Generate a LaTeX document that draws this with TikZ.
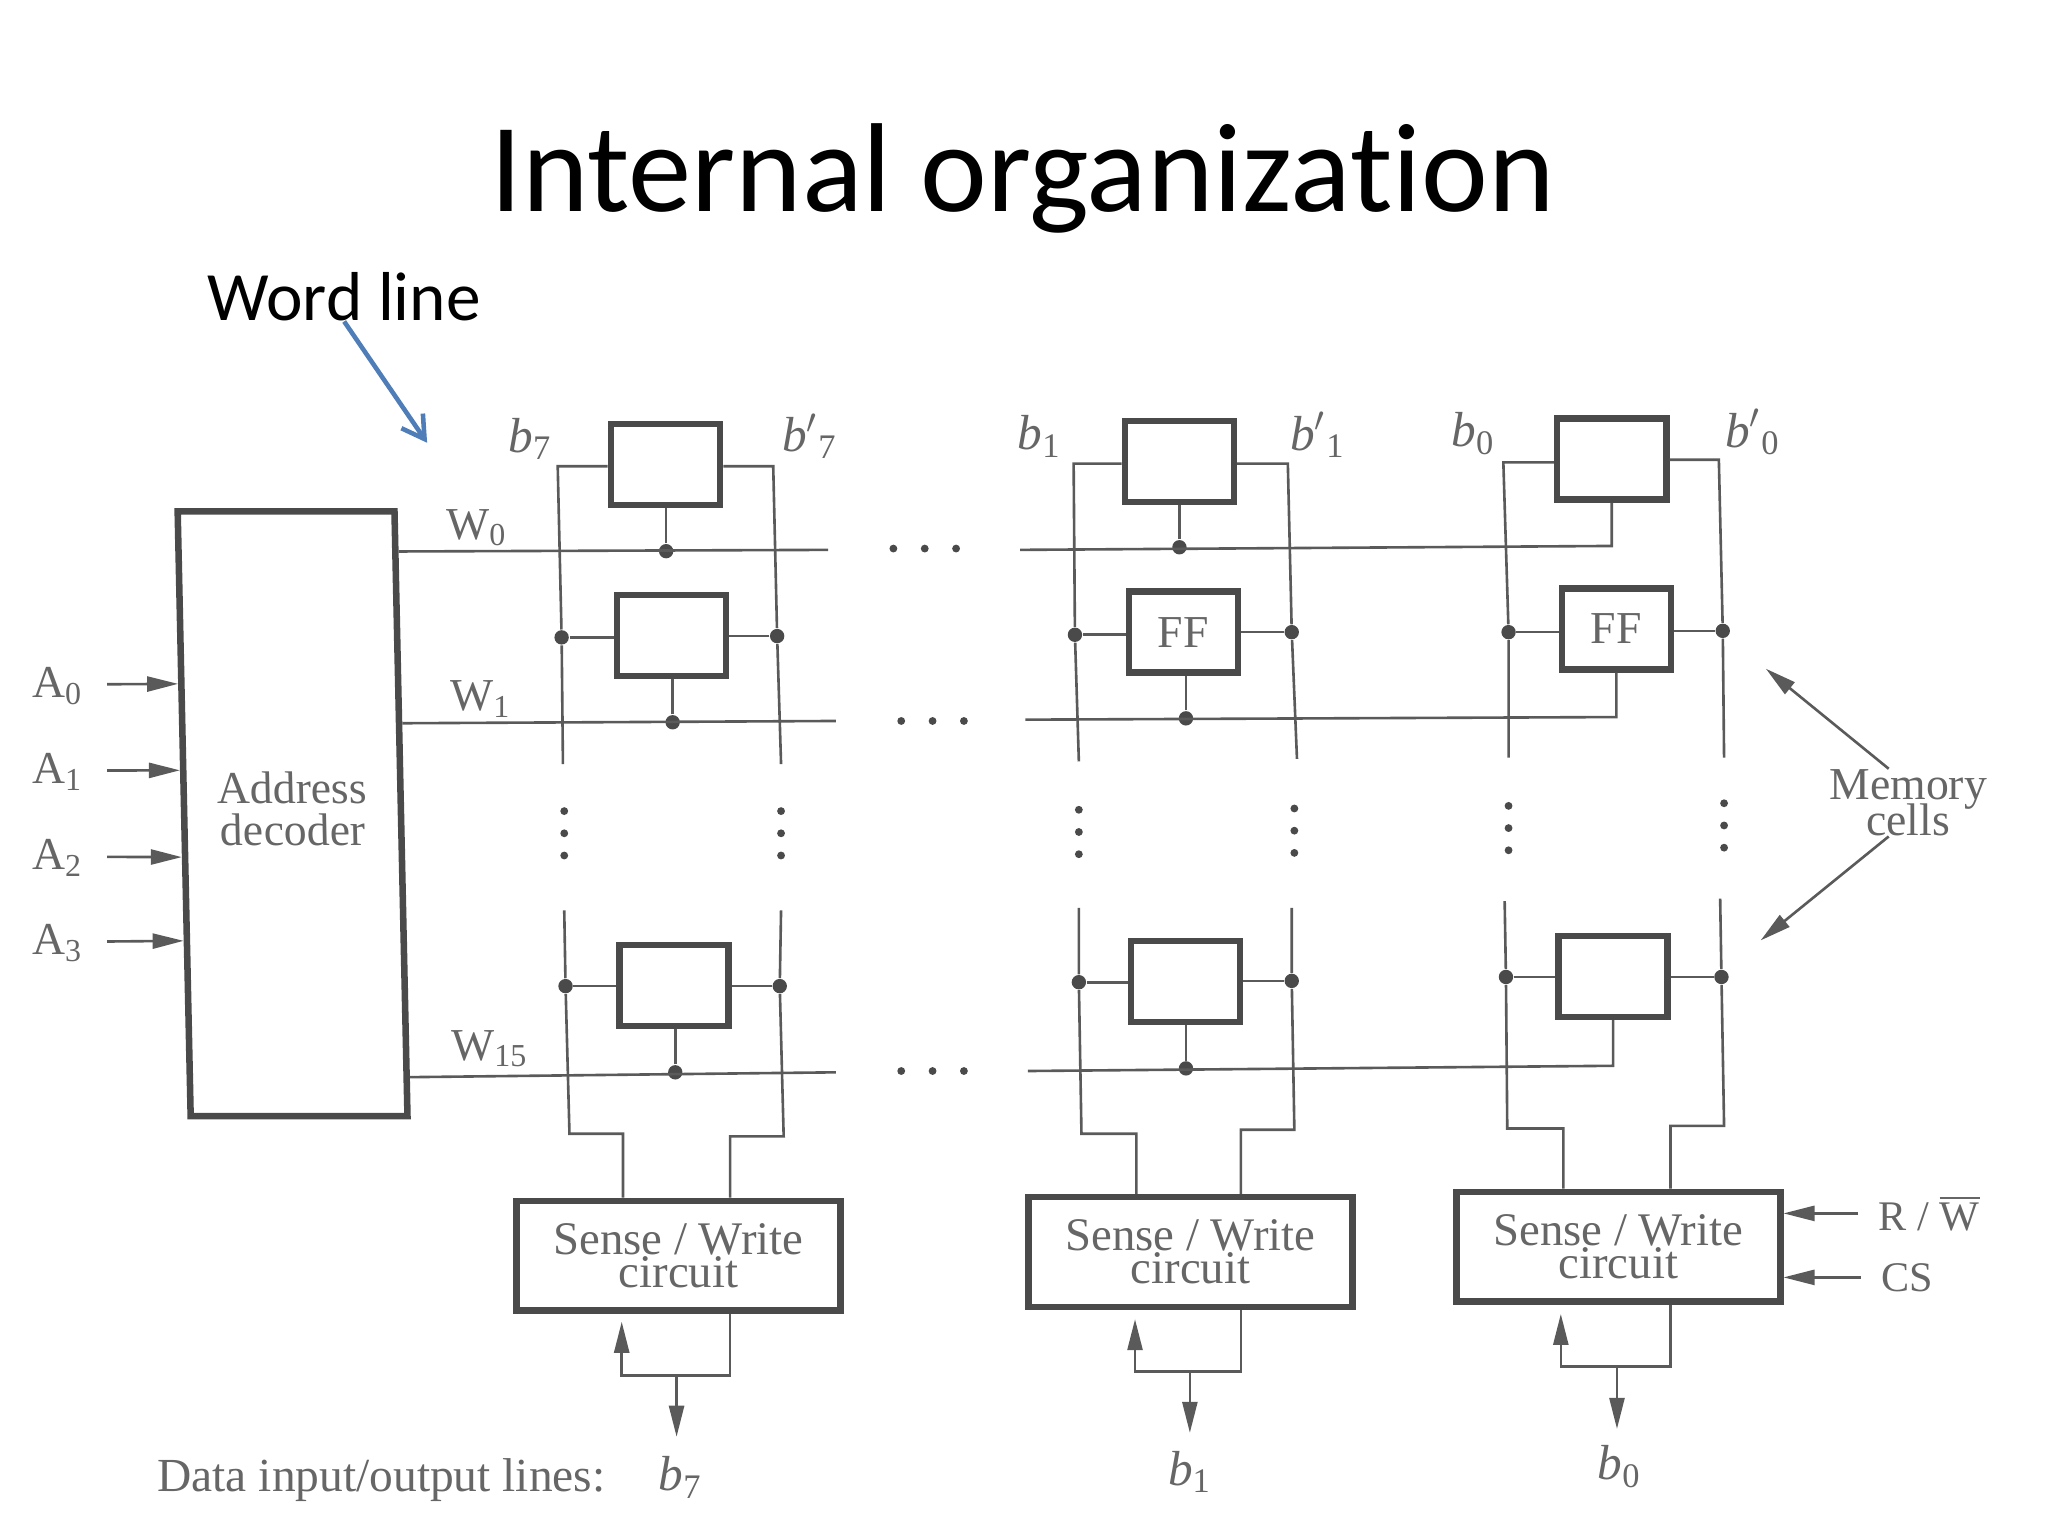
\documentclass[tikz,border=0pt]{standalone}
\usepackage{fontspec}
\setmainfont{Liberation Serif}
\newfontfamily\slidefont[Ligatures=NoCommon]{Carlito}
\usetikzlibrary{arrows.meta,calc}
\definecolor{ink}{HTML}{666666}
\definecolor{wirec}{HTML}{5A5A5A}
\definecolor{boxc}{HTML}{4A4A4A}
\definecolor{bluec}{HTML}{4F7DB8}
\def\px{0.130612mm}
\begin{document}
\begin{tikzpicture}[x=0.130612mm,y=-0.130612mm,inner sep=0pt]
  \useasboundingbox(0,0)rectangle(1568,1176);
  \tikzstyle{lab}=[text=ink,font=\fontsize{13}{9.5}\selectfont,align=center]
  \tikzstyle{blab}=[lab,font=\fontsize{14}{14}\selectfont]
  \tikzstyle{wire}=[draw=wirec,line width=2*\px]
  \tikzstyle{ptr}=[wire,-{Triangle[length=3.1mm,width=1.5mm]}]
  \tikzstyle{cell}=[lab,rectangle,draw=boxc,fill=white,line width=5*\px,minimum width=83.5*\px,minimum height=62*\px]
  \tikzstyle{sense}=[lab,rectangle,draw=boxc,fill=white,line width=5*\px,minimum width=248*\px,minimum height=84*\px,font=\fontsize{13.3}{10}\selectfont]
  \tikzstyle{jn}=[circle,fill=boxc,minimum size=11*\px]
  \tikzstyle{sdot}=[circle,fill=boxc,minimum size=6*\px]
  \node[font=\slidefont\fontsize{36}{36}\selectfont](title)at(783,136.5){Internal organization};
  \node[font=\slidefont\fontsize{19.7}{20}\selectfont](wordline)at(263.5,227){Word line};
  \coordinate(wltip)at(327,339);
  \draw[draw=bluec,line width=3.5*\px,-{Straight Barb[length=2.2mm,width=2.6mm]}](wordline.south)--(wltip);
  \node[lab,rectangle,draw=boxc,fill=white,line width=5*\px,minimum width=166*\px,minimum height=463*\px,xslant=-0.0215,transform shape,font=\fontsize{13}{12}\selectfont,text depth=3pt](decoder)at(224,623){Address\\decoder};
  \foreach\i/\y/\t in{0/525/.2876,1/591/.429,2/657/.571,3/722/.708}{
    \node[lab](a\i)at(44,\y){A\textsubscript{\i}};
    \draw[ptr,shorten <=18*\px]($(a\i.east)+(0,-1)$)--($(decoder.north west)!\t!(decoder.south west)$);
  }
  \foreach\cl/\rw/\x/\y/\tx in{7/0/509.5/355.5/,1/0/903/353.5/,0/0/1234/351.5/,7/1/514/486.5/,1/1/906/484/FF,0/1/1237.5/481.5/FF,7/2/516/754.5/,1/2/907.5/751.5/,0/2/1235/747.5/}{
    \node[cell](c\cl\rw)at(\x,\y){\tx};
  }
  \node[sense](s7)at(519.5,961.5){Sense / Write\\[-0.8pt]circuit};
  \node[sense](s1)at(911.5,958.5){Sense / Write\\[-0.8pt]circuit};
  \node[sense](s0)at(1239,954.5){Sense / Write\\[-0.8pt]circuit};
  % word lines
  \foreach\rw/\t/\sb/\wx/\wy/\ex/\ey/\jx/\jy/\sx/\sy/\kx/\ky/\cy/\hx/\hy in{0/.071/0/365/404/634/421/510/422/781/421/903/419/418/684/420,1/.352/1/368/535/640/552/515/553/785/551/908/550/549/690/552,2/.931/15/375/803/640/821/517/821/787/820/908/818/816/690/820}{
    \node[lab](w\rw)at(\wx,\wy){W\textsubscript{\sb}};
    \node[jn](wa\rw)at(\jx,\jy){};
    \node[jn](wb\rw)at(\kx,\ky){};
    \draw[wire]($(decoder.north east)!\t!(decoder.south east)$)--(\ex,\ey);
    \draw[wire](\sx,\sy)--(c0\rw.south|-0,\cy)--(c0\rw.south);
    \draw[wire](wa\rw)--(wa\rw|-c7\rw.south);
    \draw[wire](wb\rw)--(wb\rw|-c1\rw.south);
    \foreach\k in{0,1,2}{\node[sdot](h\rw\k)at({\hx+24*\k},\hy){};}
  }
  % bit lines
  \foreach\cl/\sd/\ax/\ay/\bx/\by/\dx/\dy/\cx/\cy/\ex/\ey/\fx/\fy/\gx/\vx/\vy in{7/west/427/357/431/585/430/488/432/697/433/755/436/868/477/432/621,7/east/592/357/598/585/595/487/598/697/597/755/600/870/559/598/621,1/west/822/355/826/583/823/486/826/695/826/752/828/868/870/826/620,1/east/986/355/993/581/989/484/989/695/989/751/991/865/950/991/619,0/west/1151/354/1155/580/1155/484/1152/690/1153/748/1154/864/1197/1155/617,0/east/1316/352/1320/580/1319/483/1317/688/1318/748/1320/862/1279/1320/615}{
    \node[jn](j\cl\sd)at(\dx,\dy){};
    \node[jn](k\cl\sd)at(\ex,\ey){};
    \draw[wire](c\cl0.\sd|-\ax,\ay)--(\ax,\ay)--(j\cl\sd)--(\bx,\by);
    \draw[wire](j\cl\sd)--(c\cl1.\sd|-j\cl\sd);
    \draw[wire](\cx,\cy)--(k\cl\sd)--(\fx,\fy)--(\gx,\fy)--(\gx,\fy|-s\cl.north);
    \draw[wire](k\cl\sd)--(c\cl2.\sd|-k\cl\sd);
    \foreach\k in{0,1,2}{\node[sdot](v\cl\sd\k)at(\vx,{\vy+17*\k}){};}
  }
  \foreach\cl/\x/\y in{7/406/336,1/796/334,0/1128/332}{\node[blab](b\cl)at(\x,\y){\textit{b}\textsubscript{\cl}};}
  \foreach\cl/\x/\y in{7/620/334,1/1009/333,0/1342/331}{\node[blab](bp\cl)at(\x,\y){\textit{b}$'$\textsubscript{\cl}};}
  % data lines
  \foreach\cl/\lx/\rx/\by/\mx/\ty/\dy/\ox/\oy in{7/476/559/1053/518/1012/1100/521/1131,1/869/950/1050/911/1010/1097/911/1127,0/1195/1279/1046/1238/1006/1094/1240/1123}{
    \coordinate(up\cl)at(\lx,\ty);
    \coordinate(dn\cl)at(\mx,\dy);
    \node[blab](o\cl)at(\ox,\oy){\textit{b}\textsubscript{\cl}};
    \draw[ptr](\rx,\by|-s\cl.south)--(\rx,\by)--(\lx,\by)--(up\cl);
    \draw[ptr](\mx,\by)--(dn\cl);
  }
  \node[lab,anchor=west,font=\fontsize{13.5}{14}\selectfont](data)at(120,1133){Data input/output lines:};
  % right side
  \node[lab](memory)at(1461,614.5){Memory\\[-2.6pt]cells};
  \coordinate(mcup)at(1352,512);
  \coordinate(mcdn)at(1348,720);
  \draw[ptr](memory.120)--(mcup);
  \draw[ptr](memory.240)--(mcdn);
  \node[lab,font=\fontsize{12}{12}\selectfont](rw)at(1477,929){R / $\overline{\mbox{W}}$};
  \node[lab,font=\fontsize{12}{12}\selectfont](cs)at(1460,978){CS};
  \draw[ptr,shorten <=15*\px](rw.west)--(s0.east|-rw.west);
  \draw[ptr,shorten <=15*\px](cs.west)--(s0.east|-cs.west);
\end{tikzpicture}
\end{document}
